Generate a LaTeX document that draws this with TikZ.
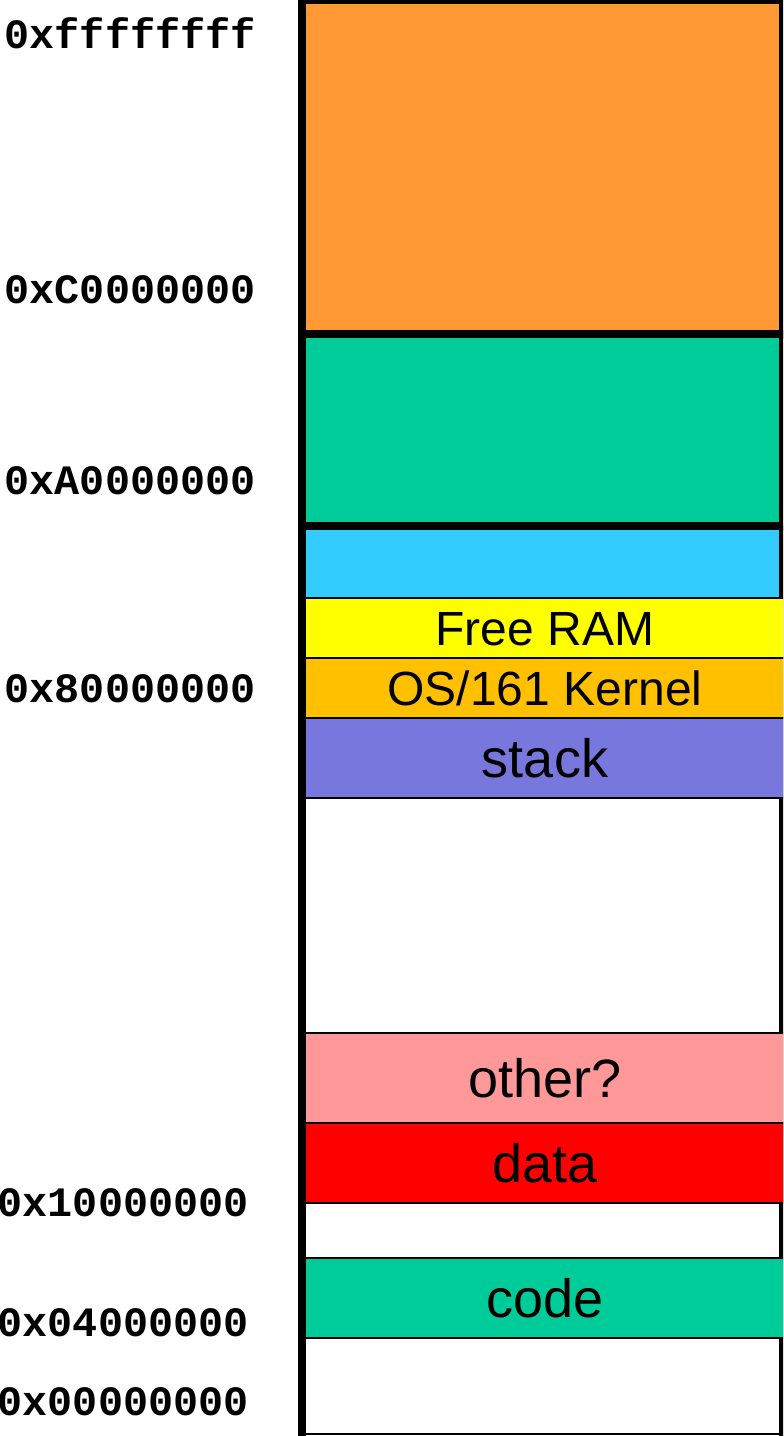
\documentclass[tikz,border=0pt]{standalone}
\usepackage{fontspec}
\setmainfont{Liberation Sans}
\newfontfamily\addrfont{Liberation Mono}
\usepackage{tikz}
\usetikzlibrary{positioning}
\usepackage{xcolor}

\definecolor{kseg}{HTML}{FF9933}
\definecolor{ioseg}{HTML}{00CC99}
\definecolor{physseg}{HTML}{33CCFF}
\definecolor{freeram}{HTML}{FFFF00}
\definecolor{kernel}{HTML}{FFC000}
\definecolor{stackc}{HTML}{7777DD}
\definecolor{otherc}{HTML}{FF9999}
\definecolor{datac}{HTML}{FF0000}
\definecolor{codec}{HTML}{00CC99}

\tikzset{
  frame/.style={line width=4pt},
  bigseg/.style={frame, draw, rectangle, anchor=north west, inner sep=0pt, outer sep=0pt,
    minimum width=240.5pt},
  seg/.style={draw, line width=0.75pt, rectangle, anchor=north west, inner sep=0pt, outer sep=0pt,
    minimum width=240pt, font=\fontsize{24}{24}\selectfont, text height=17pt, text depth=0pt},
  useg/.style={seg, font=\fontsize{27}{27}\selectfont, text height=19pt},
  gap/.style={seg, minimum width=237.5pt},
  addr/.style={anchor=east, inner sep=0pt, font=\addrfont\bfseries\fontsize{20.9}{21}\selectfont}
}

\begin{document}
\begin{tikzpicture}[x=0.5pt, y=-0.5pt]
    \clip (0,0) rectangle (783,1436);

    % physical memory
    \node[gap, fill=physseg, minimum height=36pt] (phys) at (305,526) {};

    % kernel segments (thick)
    \node[bigseg, fill=kseg, minimum height=167pt] (kseg2) at (302,0) {};
    \node[bigseg, fill=ioseg, minimum height=96pt] (kseg1) at (302,334) {};

    % right edge of the address space
    \draw[frame] (kseg1.south east) -- (783,1440);

    \node[seg, fill=freeram, minimum height=30pt] (free) at (305,598) {Free RAM};
    \node[seg, fill=kernel, minimum height=30pt] (kern) at (305,658) {OS/161 Kernel};

    % user address space
    \node[useg, fill=stackc, minimum height=40pt] (stack) at (305,718) {stack};
    \node[gap, minimum height=117.5pt] (hole) at (305,798) {};
    \node[useg, fill=otherc, minimum height=45pt] (other) at (305,1033) {other?};
    \node[useg, fill=datac, minimum height=40pt] (data) at (305,1123) {data};
    \node[gap, minimum height=27.5pt] (gap1) at (305,1203) {};
    \node[useg, fill=codec, minimum height=40pt] (code) at (305,1258) {code};
    \node[gap, minimum height=48pt] (gap0) at (305,1338) {};

    % left edge
    \draw[frame] (kseg1.south west) -- (302,1440);

    % addresses
    \node[addr] (a1) at (256,33) {0xffffffff};
    \node[addr] (a2) at (256,290) {0xC0000000};
    \node[addr] (a3) at (256,481) {0xA0000000};
    \node[addr] (a4) at (256,689) {0x80000000};
    \node[addr] (a5) at (249,1203) {0x10000000};
    \node[addr] (a6) at (249,1323) {0x04000000};
    \node[addr] (a7) at (249,1402) {0x00000000};
\end{tikzpicture}
\end{document}
